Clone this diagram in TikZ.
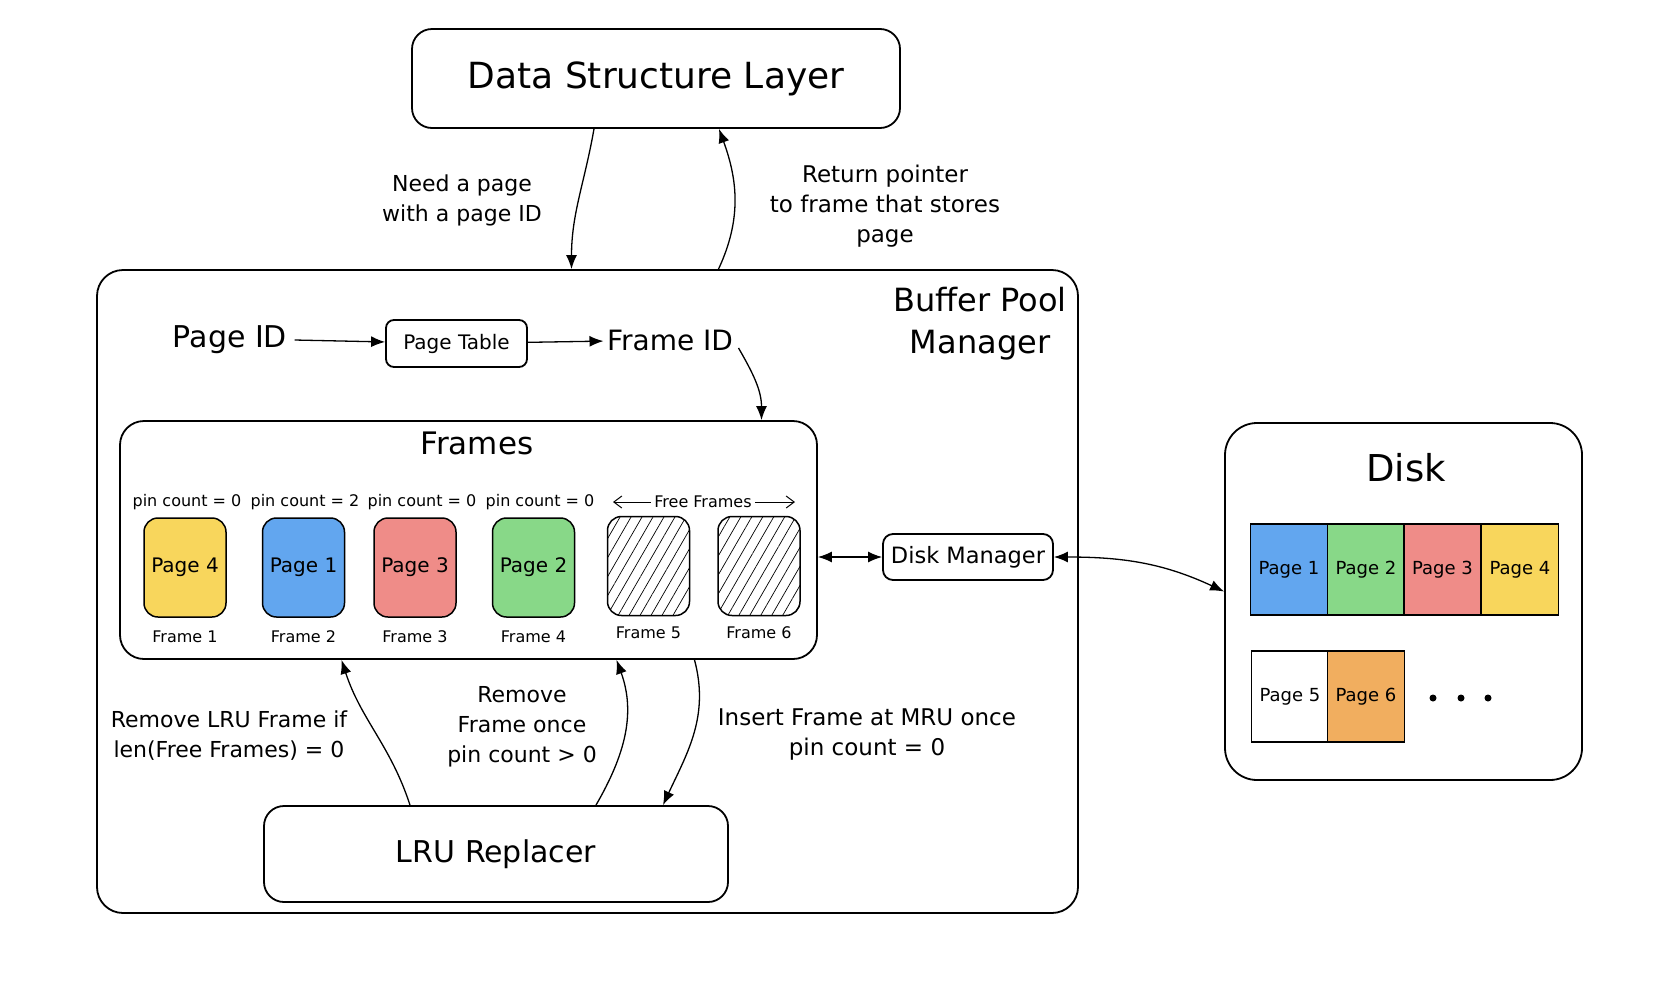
\documentclass[tikz,border=0pt]{standalone}
\usepackage{fontspec}
\setmainfont{DejaVu Sans}
\usetikzlibrary{arrows.meta,patterns.meta}
\definecolor{pageyellow}{HTML}{F8D65C}
\definecolor{pageblue}{HTML}{62A6EF}
\definecolor{pagered}{HTML}{EF8C88}
\definecolor{pagegreen}{HTML}{88D888}
\definecolor{pageorange}{HTML}{F1AE5F}
\begin{document}
\begin{tikzpicture}[x=1pt,y=-1pt,
    box/.style={draw,line width=1.8pt,rounded corners=#1,inner sep=0pt},
    box/.default=20pt,
    frame/.style={draw,line width=1.5pt,rounded corners=14pt,minimum width=82pt,minimum height=99pt,inner sep=0pt,font=\fontsize{20}{22}\selectfont},
    free/.style={frame,pattern={Lines[angle=60,distance=9.5pt,line width=0.7pt]}},
    cell/.style={draw,line width=1.6pt,minimum width=77pt,minimum height=91pt,inner sep=0pt,font=\fontsize{18}{20}\selectfont},
    lbl/.style={align=center,font=\fontsize{22}{30}\selectfont},
    small/.style={font=\fontsize{16}{18}\selectfont},
    link/.style={line width=1.3pt,-{Latex[length=14pt,width=11pt]}},
    dlink/.style={line width=1.3pt,{Latex[length=14pt,width=11pt]}-{Latex[length=14pt,width=11pt]}},
  ]
  \useasboundingbox (0,0) rectangle (1676,1002);
  % top layer
  \node[box,minimum width=488pt,minimum height=99pt,font=\fontsize{36}{40}\selectfont] (DSL) at (656,78.5) {Data Structure Layer};
  \node[lbl] (need) at (462,200) {Need a page\\with a page ID};
  \node[lbl,font=\fontsize{23}{30}\selectfont] (ret) at (885,206) {Return pointer\\to frame that stores\\page};
  % buffer pool manager
  \node[box=26pt,minimum width=981pt,minimum height=643pt] (BPM) at (587.5,591.5) {};
  \node[align=center,font=\fontsize{32}{42}\selectfont] (BPMlabel) at (980,324) {Buffer Pool\\Manager};
  \node[font=\fontsize{30}{32}\selectfont] (PID) at (230,340) {Page ID};
  \node[box=8pt,minimum width=141pt,minimum height=47pt,font=\fontsize{20}{22}\selectfont] (PT) at (456.5,343.5) {Page Table};
  \node[font=\fontsize{28}{30}\selectfont] (FID) at (670,340) {Frame ID};
  \node[box=24pt,minimum width=697pt,minimum height=238pt] (FR) at (468.5,540) {};
  \node[font=\fontsize{31}{32}\selectfont] (FRlabel) at (477,443) {Frames};
  \node[small] (P1) at (187,502) {pin count = 0};
  \node[small] (P2) at (305,502) {pin count = 2};
  \node[small] (P3) at (422,502) {pin count = 0};
  \node[small] (P4) at (540,502) {pin count = 0};
  \node[small] (FF) at (703,502) {Free Frames};
  \coordinate (FFl) at (613,502);
  \coordinate (FFr) at (795,502);
  \draw[line width=1pt,-{Straight Barb[length=8pt,width=12pt]}] (FF) -- (FFl);
  \draw[line width=1pt,-{Straight Barb[length=8pt,width=12pt]}] (FF) -- (FFr);
  \node[frame,fill=pageyellow] (F1) at (185,567.5) {Page 4};
  \node[frame,fill=pageblue] (F2) at (303.5,567.5) {Page 1};
  \node[frame,fill=pagered] (F3) at (415,567.5) {Page 3};
  \node[frame,fill=pagegreen] (F4) at (533.5,567.5) {Page 2};
  \node[free] (F5) at (648.5,566) {};
  \node[free] (F6) at (759,566) {};
  \node[small] (L1) at (185,637) {Frame 1};
  \node[small] (L2) at (303.5,637) {Frame 2};
  \node[small] (L3) at (415,637) {Frame 3};
  \node[small] (L4) at (533.5,637) {Frame 4};
  \node[small] (L5) at (648.5,633) {Frame 5};
  \node[small] (L6) at (759,633) {Frame 6};
  \node[box,minimum width=464pt,minimum height=96pt,font=\fontsize{30}{32}\selectfont] (LRU) at (496,854) {LRU Replacer};
  \node[lbl] (evict) at (229,736) {Remove LRU Frame if\\len(Free Frames) = 0};
  \node[lbl] (pin) at (522,727) {Remove\\Frame once\\pin count > 0};
  \node[lbl,font=\fontsize{23}{30}\selectfont] (unpin) at (867,734) {Insert Frame at MRU once\\pin count = 0};
  \node[box=10pt,minimum width=170pt,minimum height=46pt,font=\fontsize{22.5}{26}\selectfont] (DM) at (968,557) {Disk Manager};
  % disk
  \node[box=32pt,minimum width=357pt,minimum height=357pt] (DK) at (1403.5,601.5) {};
  \node[font=\fontsize{37}{40}\selectfont] (DKlabel) at (1406,468) {Disk};
  \node[cell,fill=pageblue] (D1) at (1289,569.5) {Page 1};
  \node[cell,fill=pagegreen] (D2) at (1366,569.5) {Page 2};
  \node[cell,fill=pagered] (D3) at (1442.5,569.5) {Page 3};
  \node[cell,fill=pageyellow] (D4) at (1520,569.5) {Page 4};
  \node[cell,fill=white] (D5) at (1290,696.5) {Page 5};
  \node[cell,fill=pageorange] (D6) at (1366,696.5) {Page 6};
  \fill (1433,698) circle (3.5) (1461,698) circle (3.5) (1488,698) circle (3.5);
  % connectors
  \draw[link] ([xshift=-62pt]DSL.south) to[out=-100,in=90] ([xshift=-16pt]BPM.north);
  \draw[link] ([xshift=131pt]BPM.north) to[out=65,in=-70] ([xshift=63pt]DSL.south);
  \draw[link] ([xshift=4pt]PID.east) -- (PT);
  \draw[link] (PT) -- (FID);
  \draw[link] ([xshift=2pt,yshift=-8pt]FID.east) to[out=-60,in=90] ([xshift=293pt]FR.north);
  \draw[dlink] (FR.east |- DM.west) -- (DM.west);
  \draw[dlink] (DM.east) to[out=0,in=155] ([yshift=10pt]DK.west);
  \draw[link] ([xshift=-86pt]LRU.north) to[out=108,in=-72] ([xshift=-127pt]FR.south);
  \draw[link] ([xshift=100pt]LRU.north) to[out=60,in=-70] ([xshift=148pt]FR.south);
  \draw[link] ([xshift=226pt]FR.south) to[out=-75,in=65] ([xshift=167pt]LRU.north);
\end{tikzpicture}
\end{document}
